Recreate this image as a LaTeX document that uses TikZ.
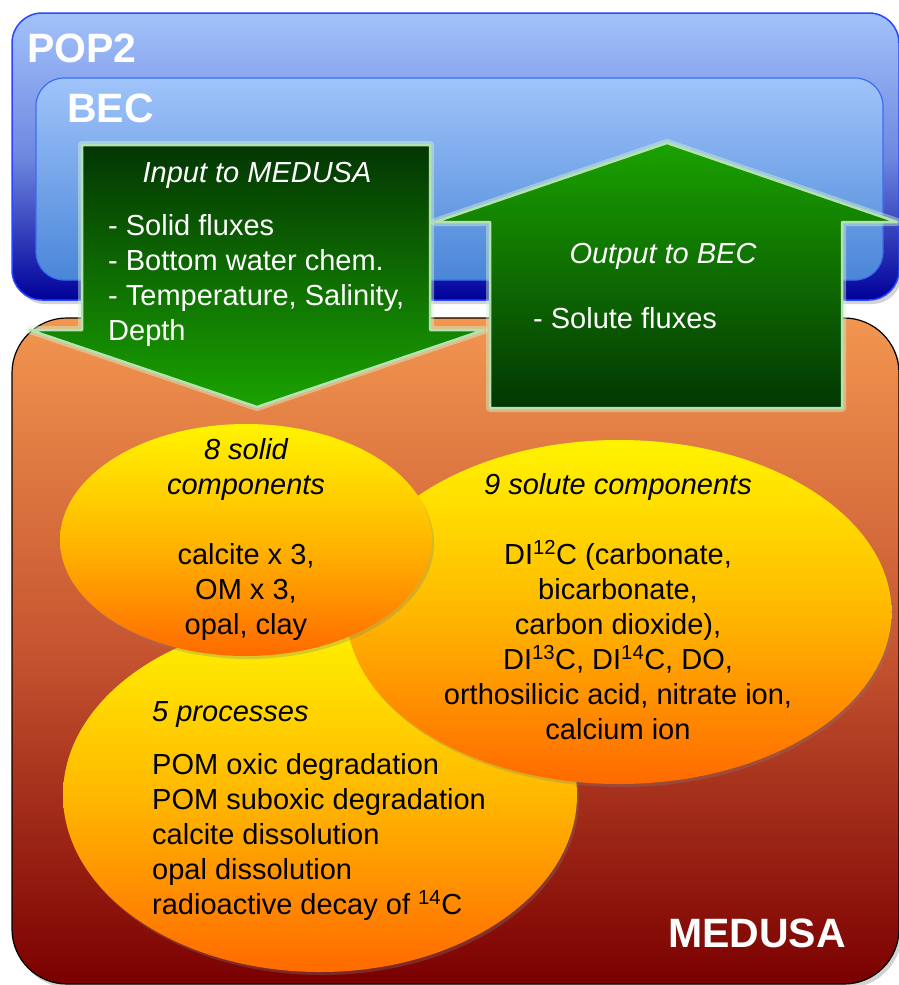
\documentclass[tikz,border=0pt]{standalone}
\usepackage{fontspec}
\setmainfont{Liberation Sans}
\usetikzlibrary{shapes.geometric,shadows}
\definecolor{poptop}{HTML}{A2C2FA}
\definecolor{popmid}{HTML}{6E88E0}
\definecolor{popbot}{HTML}{00009A}
\definecolor{popedge}{HTML}{2A46FF}
\definecolor{bectop}{HTML}{A0C4FA}
\definecolor{becbot}{HTML}{4A86D8}
\definecolor{becedge}{HTML}{3C6CF2}
\definecolor{medtop}{HTML}{F29650}
\definecolor{medmid}{HTML}{C65430}
\definecolor{medbot}{HTML}{7A0000}
\definecolor{gdark}{HTML}{033603}
\definecolor{glight}{HTML}{1AA200}
\definecolor{gedge}{HTML}{B4E2B2}
\definecolor{gglow}{HTML}{CFF5CF}
\definecolor{elltop}{HTML}{FFF400}
\definecolor{ellmid}{HTML}{FFB800}
\definecolor{ellbot}{HTML}{FF6A00}
\newcommand{\bodyfont}{\fontsize{29}{35}\selectfont}
\newcommand{\headfont}{\fontsize{41}{41}\selectfont\bfseries}
\begin{document}
\begin{tikzpicture}[x=1pt,y=-1pt,
  popbox/.style={rectangle, inner sep=0pt, rounded corners=30pt, draw=popedge, line width=1.5pt,
    top color=poptop, bottom color=popbot, middle color=popmid,
    drop shadow={opacity=0.35, shadow xshift=3pt, shadow yshift=-4pt},
    minimum width=887pt, minimum height=287pt},
  becbox/.style={rectangle, inner sep=0pt, rounded corners=28pt, draw=becedge, line width=1.2pt,
    top color=bectop, bottom color=becbot,
    minimum width=847pt, minimum height=202pt},
  medbox/.style={rectangle, inner sep=0pt, rounded corners=55pt, draw=black, line width=1.2pt,
    top color=medtop, bottom color=medbot, middle color=medmid,
    drop shadow={opacity=0.35, shadow xshift=3pt, shadow yshift=-4pt},
    minimum width=887pt, minimum height=666pt},
  arrowglow/.style={draw=gglow, line width=8pt, opacity=0.45, line join=round},
  arrowdown/.style={draw=gedge, line width=2.5pt, line join=round, top color=gdark, bottom color=glight},
  arrowup/.style={draw=gedge, line width=2.5pt, line join=round, top color=glight, bottom color=gdark},
  blob/.style={ellipse, inner sep=0pt, top color=elltop, bottom color=ellbot, middle color=ellmid,
    drop shadow={opacity=0.3, shadow xshift=2pt, shadow yshift=-3pt}},
  headtext/.style={text=white, font=\headfont, inner sep=0pt},
  wtext/.style={text=white, font=\bodyfont, inner sep=0pt},
  btext/.style={text=black, font=\bodyfont, inner sep=0pt}
]
\useasboundingbox (0,0) rectangle (899,985);

% model boxes
\node[popbox] (pop2) at (455.5,156.5) {};
\node[becbox] (bec) at (459.5,179) {};
\node[medbox] (medusa) at (455.5,651) {};

% input arrow (down)
\path[arrowglow] (82,145) -- (430,145) -- (430,330) -- (484,330) -- (257,407) -- (30,330) -- (82,330) -- cycle;
\shadedraw[arrowdown] (82,145) -- (430,145) -- (430,330) -- (484,330) -- (257,407) -- (30,330) -- (82,330) -- cycle;

% output arrow (up)
\path[arrowglow] (490,408) -- (842,408) -- (842,222) -- (897,222) -- (667,143) -- (435,222) -- (490,222) -- cycle;
\shadedraw[arrowup] (490,408) -- (842,408) -- (842,222) -- (897,222) -- (667,143) -- (435,222) -- (490,222) -- cycle;

% component ellipses
\node[blob, minimum width=514pt, minimum height=354pt] (procell) at (320,795) {};
\node[blob, minimum width=545pt, minimum height=344pt] (soluteell) at (619,612) {};
\node[blob, minimum width=372pt, minimum height=232pt] (solidell) at (246,540) {};

% titles
\node[headtext, anchor=base west] (pop2lbl) at (27,62) {POP2};
\node[headtext, anchor=base west] (beclbl) at (67,122) {BEC};
\node[headtext, anchor=base west] (medlbl) at (668,947) {MEDUSA};

% arrow texts
\node[wtext, anchor=base] (intitle) at (257,182) {\itshape Input to MEDUSA};
\node[wtext, anchor=base west] (inlist) at (108,235)
  {\begin{tabular}[t]{@{}l@{}}- Solid fluxes\\- Bottom water chem.\\- Temperature, Salinity,\\Depth\end{tabular}};
\node[wtext, anchor=base] (outtitle) at (663,263) {\itshape Output to BEC};
\node[wtext, anchor=base west] (outlist) at (533,328) {- Solute fluxes};

% ellipse texts
\node[btext, anchor=base] (solidtxt) at (246,459)
  {\begin{tabular}[t]{@{}c@{}}\itshape 8 solid\\\itshape components\\ \\calcite x 3,\\OM x 3,\\opal, clay\end{tabular}};
\node[btext, anchor=base] (solutetxt) at (618,494)
  {\begin{tabular}[t]{@{}c@{}}\itshape 9 solute components\\ \\DI\textsuperscript{12}C (carbonate,\\bicarbonate,\\carbon dioxide),\\DI\textsuperscript{13}C, DI\textsuperscript{14}C, DO,\\orthosilicic acid, nitrate ion,\\calcium ion\end{tabular}};
\node[btext, anchor=base west] (proctitle) at (152,721) {\itshape 5 processes};
\node[btext, anchor=base west] (proclist) at (152,774)
  {\begin{tabular}[t]{@{}l@{}}POM oxic degradation\\POM suboxic degradation\\calcite dissolution\\opal dissolution\\radioactive decay of \textsuperscript{14}C\end{tabular}};
\end{tikzpicture}
\end{document}
